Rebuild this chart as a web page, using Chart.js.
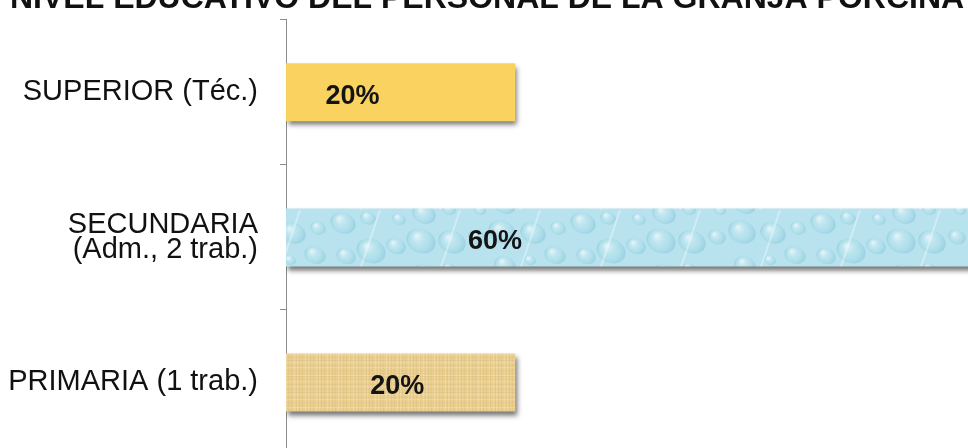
<!DOCTYPE html>
<html>
<head>
<meta charset="utf-8">
<script src="https://cdn.jsdelivr.net/npm/chart.js@4.4.1/dist/chart.umd.min.js"></script>
<style>
  html, body { margin: 0; padding: 0; background: #ffffff; overflow: hidden; width: 968px; height: 448px; }
  #wrap { position: absolute; left: 0; top: -30px; width: 968px; height: 485px; }
</style>
</head>
<body>
<div id="wrap"><canvas id="c" width="968" height="485"></canvas></div>
<script>
// ---- data ----
const chartTitle = "NIVEL EDUCATIVO DEL PERSONAL DE LA GRANJA PORCINA";
const categories = [["SUPERIOR (Téc.)"], ["SECUNDARIA", "(Adm., 2 trab.)"], ["PRIMARIA (1 trab.)"]];
const values = [20, 60, 20];
const valueLabels = ["20%", "60%", "20%"];

// ---- textures ----
function waterPattern() {
  const W = 240, H = 60;
  const c = document.createElement('canvas');
  c.width = W; c.height = H;
  const g = c.getContext('2d');
  g.fillStyle = '#b8e3ee'; g.fillRect(0, 0, W, H);
  const drops = 18;
  for (let i = 0; i < drops; i++) {
    const x = (i * 53) % W, y = (i * 23) % H, r = 6 + (i * 7) % 10;
    for (let dx = -W; dx <= W; dx += W) {
      for (let dy = -H; dy <= H; dy += H) {
        const cx = x + dx, cy = y + dy;
        const rg = g.createRadialGradient(cx - r * 0.3, cy - r * 0.35, 1, cx, cy, r);
        rg.addColorStop(0, 'rgba(255,255,255,0.55)');
        rg.addColorStop(0.55, 'rgba(170,220,233,0.25)');
        rg.addColorStop(1, 'rgba(105,180,205,0.40)');
        g.fillStyle = rg;
        g.beginPath(); g.ellipse(cx, cy, r, r * 0.8, 0.4, 0, Math.PI * 2); g.fill();
      }
    }
  }
  g.strokeStyle = 'rgba(255,255,255,0.35)'; g.lineWidth = 2;
  for (let i = 0; i < 3; i++) {
    const x = 40 + i * 80;
    g.beginPath(); g.moveTo(x, H); g.lineTo(x + 20, 0); g.stroke();
  }
  return g.createPattern(c, 'repeat');
}
function papyrusPattern() {
  const c = document.createElement('canvas');
  c.width = 70; c.height = 58;
  const g = c.getContext('2d');
  g.fillStyle = '#eacf90'; g.fillRect(0, 0, 70, 58);
  for (let i = 0; i < 70; i++) {
    const k = (i * 7) % 11;
    if (k < 3) { g.fillStyle = 'rgba(185,145,75,0.11)'; g.fillRect(i, 0, 1, 58); }
    else if (k > 8) { g.fillStyle = 'rgba(255,246,214,0.22)'; g.fillRect(i, 0, 1, 58); }
  }
  for (let j = 0; j < 58; j++) {
    const k = (j * 5) % 13;
    if (k < 3) { g.fillStyle = 'rgba(180,140,70,0.08)'; g.fillRect(0, j, 70, 1); }
    else if (k > 10) { g.fillStyle = 'rgba(255,250,228,0.18)'; g.fillRect(0, j, 70, 1); }
  }
  return g.createPattern(c, 'repeat');
}
const fills = ['#f9d25f', waterPattern(), papyrusPattern()];

// ---- plugins ----
const shadowPlugin = {
  id: 'barShadow',
  beforeDatasetDraw(chart) {
    const ctx = chart.ctx;
    ctx.save();
    ctx.shadowColor = 'rgba(0,0,0,0.55)';
    ctx.shadowBlur = 5;
    ctx.shadowOffsetX = 2;
    ctx.shadowOffsetY = 4;
  },
  afterDatasetDraw(chart) { chart.ctx.restore(); }
};
const valueLabelPlugin = {
  id: 'valueLabels',
  afterDatasetsDraw(chart, args, opts) {
    const ctx = chart.ctx;
    const meta = chart.getDatasetMeta(0);
    ctx.save();
    ctx.font = 'bold 27px "Liberation Sans", Arial, sans-serif';
    ctx.fillStyle = '#141414';
    ctx.textAlign = 'center';
    ctx.textBaseline = 'middle';
    meta.data.forEach((bar, i) => {
      const f = opts.fractions[i];
      const x = bar.base + (bar.x - bar.base) * f;
      ctx.fillText(valueLabels[i], x, bar.y + opts.dy);
    });
    ctx.restore();
  }
};

new Chart(document.getElementById('c'), {
  type: 'bar',
  data: {
    labels: categories,
    datasets: [{
      data: values,
      backgroundColor: fills,
      borderWidth: 0,
      categoryPercentage: 1.0,
      barPercentage: 0.4
    }]
  },
  plugins: [shadowPlugin, valueLabelPlugin],
  options: {
    indexAxis: 'y',
    responsive: false,
    animation: false,
    layout: { padding: { left: 10, right: 0, top: 0, bottom: 0 } },
    plugins: {
      legend: { display: false },
      tooltip: { enabled: false },
      title: {
        display: true,
        text: chartTitle,
        align: 'start',
        color: '#111111',
        font: { family: '"Liberation Sans", Arial, sans-serif', size: 32, weight: 'bold', lineHeight: 1.15 },
        padding: { top: 11, bottom: 2 }
      },
      valueLabels: { fractions: [0.29, 0.304, 0.485], dy: 4 }
    },
    scales: {
      x: { display: false, min: 0, max: 59.5 },
      y: {
        afterFit(scale) { scale.width = 276; scale.paddingTop = 0; scale.paddingBottom = 0; },
        border: { display: true, color: '#8c8c8c', width: 1 },
        grid: { display: true, drawOnChartArea: false, drawTicks: true, tickLength: 6, color: '#8c8c8c', offset: true },
        ticks: {
          padding: 22,
          color: '#111111',
          font: { family: '"Liberation Sans", Arial, sans-serif', size: 29, lineHeight: 0.88 }
        }
      }
    }
  }
});
</script>
</body>
</html>
